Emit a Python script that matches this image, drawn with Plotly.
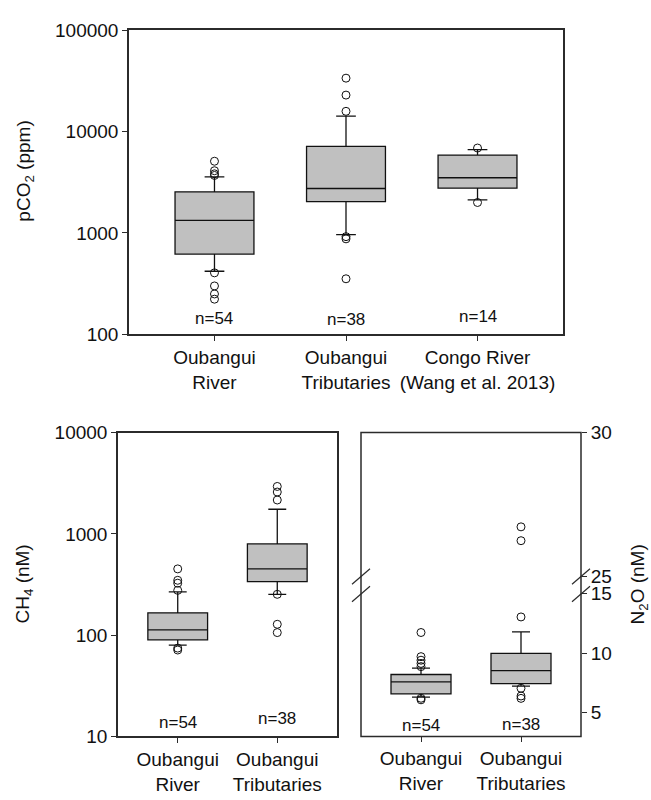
import plotly.graph_objects as go

# ---------------- data ----------------
top_labels = ["Oubangui<br>River", "Oubangui<br>Tributaries", "Congo River<br>(Wang et al. 2013)"]
top_n = ["n=54", "n=38", "n=14"]
pco2_q1 = [619, 2045, 2770]
pco2_median = [1334, 2750, 3510]
pco2_q3 = [2550, 7170, 5880]
pco2_lower = [419, 963, 2120]
pco2_upper = [3590, 14250, 6670]
pco2_outliers = [
    [5110, 4120, 3840, 3700, 404, 300, 250, 222],
    [33800, 23000, 15900, 920, 875, 353],
    [6900, 2000],
]

bottom_labels = ["Oubangui<br>River", "Oubangui<br>Tributaries"]
bottom_n = ["n=54", "n=38"]
ch4_q1 = [90, 338]
ch4_median = [112.5, 451]
ch4_q3 = [166, 796]
ch4_lower = [79.6, 253]
ch4_upper = [267, 1750]
ch4_outliers = [
    [451, 348, 326, 277, 74.5, 71.3],
    [2940, 2590, 2160, 253, 128, 106],
]

n2o_q1 = [6.57, 7.44]
n2o_median = [7.58, 8.54]
n2o_q3 = [8.21, 9.98]
n2o_lower = [6.30, 7.23]
n2o_upper = [8.75, 11.79]
n2o_outliers = [
    [11.74, 9.71, 9.41, 9.14, 8.87, 6.21, 6.08],
    [26.73, 26.25, 13.05, 7.05, 6.4, 6.2],
]
n2o_break = 20  # values above are drawn on the upper (broken) segment

# ---------------- style ----------------
W, H = 651, 800
FONT = "Liberation Sans, Arial, Helvetica, sans-serif"
AX = "#2b2b2b"
BOXFILL = "#c0c0c0"
FS = 19
TICKFONT = dict(family=FONT, size=FS, color="#111")


def px_x(v):
    return v / W


def px_y(v):
    return 1 - v / H


# domains (pixel measured)
top_x = [px_x(129), px_x(563)]
top_y = [px_y(333), px_y(21)]
ch4_x = [px_x(118), px_x(337)]
bot_y = [px_y(746), px_y(434)]
n2o_x = [px_x(361), px_x(581)]
n2o_low_y = [px_y(746), px_y(599.5)]
n2o_up_y = [px_y(582), px_y(434)]

fig = go.Figure()


def add_boxes(xa, ya, q1, med, q3, lo, hi, ww):
    for i in range(len(q1)):
        fig.add_trace(go.Box(
            x=[i], q1=[q1[i]], median=[med[i]], q3=[q3[i]],
            lowerfence=[lo[i]], upperfence=[hi[i]],
            width=0.6, whiskerwidth=ww, boxpoints=False,
            fillcolor=BOXFILL, line=dict(color="#111", width=1.3),
            xaxis=xa, yaxis=ya, showlegend=False, hoverinfo="skip"))


def add_outliers(xa, ya, xs, ys):
    fig.add_trace(go.Scatter(
        x=xs, y=ys, mode="markers", xaxis=xa, yaxis=ya, showlegend=False,
        marker=dict(symbol="circle-open", size=8, color="#111", line=dict(width=1)),
        hoverinfo="skip"))


# top panel
add_boxes("x", "y", pco2_q1, pco2_median, pco2_q3, pco2_lower, pco2_upper, 0.25)
xs, ys = [], []
for i, vals in enumerate(pco2_outliers):
    xs += [i] * len(vals)
    ys += vals
add_outliers("x", "y", xs, ys)

# CH4 panel
add_boxes("x2", "y2", ch4_q1, ch4_median, ch4_q3, ch4_lower, ch4_upper, 0.3)
xs, ys = [], []
for i, vals in enumerate(ch4_outliers):
    xs += [i] * len(vals)
    ys += vals
add_outliers("x2", "y2", xs, ys)

# N2O panel
add_boxes("x3", "y3", n2o_q1, n2o_median, n2o_q3, n2o_lower, n2o_upper, 0.3)
xl, yl, xu, yu = [], [], [], []
for i, vals in enumerate(n2o_outliers):
    for v in vals:
        if v > n2o_break:
            xu.append(i); yu.append(v)
        else:
            xl.append(i); yl.append(v)
add_outliers("x3", "y3", xl, yl)
add_outliers("x3", "y4", xu, yu)

axis_common = dict(showgrid=False, zeroline=False, linecolor=AX, linewidth=1.5,
                   ticks="outside", ticklen=5, tickwidth=1.2, tickcolor=AX,
                   tickfont=TICKFONT)

fig.update_layout(
    width=W, height=H, margin=dict(l=0, r=0, t=0, b=0),
    paper_bgcolor="white", plot_bgcolor="white",
    font=dict(family=FONT, color="#111"),
    xaxis=dict(domain=top_x, anchor="y", range=[-0.65, 2.65], tickvals=[0, 1, 2],
               ticktext=top_labels, showline=True, mirror=True, **axis_common),
    yaxis=dict(domain=top_y, anchor="x", type="log", range=[2, 5],
               tickvals=[100, 1000, 10000, 100000],
               ticktext=["100", "1000", "10000", "100000"],
               showline=True, mirror=True, **axis_common),
    xaxis2=dict(domain=ch4_x, anchor="y2", range=[-0.6, 1.6], tickvals=[0, 1],
                ticktext=bottom_labels, showline=True, mirror=True, **axis_common),
    yaxis2=dict(domain=bot_y, anchor="x2", type="log", range=[1, 4],
                tickvals=[10, 100, 1000, 10000],
                ticktext=["10", "100", "1000", "10000"],
                showline=True, mirror=True, **axis_common),
    xaxis3=dict(domain=n2o_x, anchor="y3", range=[-0.6, 1.6], tickvals=[0, 1],
                ticktext=bottom_labels, showline=False, **axis_common),
    yaxis3=dict(domain=n2o_low_y, anchor="x3", side="right", range=[3, 15],
                tickvals=[5, 10, 15], showline=False, **axis_common),
    yaxis4=dict(domain=n2o_up_y, anchor="x3", side="right", range=[25, 30],
                tickvals=[25, 30], showline=False, **axis_common),
)

# N2O frame
fig.add_shape(type="rect", xref="paper", yref="paper",
              x0=n2o_x[0], x1=n2o_x[1], y0=n2o_low_y[0], y1=n2o_up_y[1],
              line=dict(color=AX, width=1.5), fillcolor="rgba(0,0,0,0)", layer="above")

# break marks on both sides of the N2O axis
gap_mid = (n2o_low_y[1] + n2o_up_y[0]) / 2
dx = 9 / W
dy = 8 / H
sep = 18 / H
for xc in n2o_x:
    for off in (sep / 2, -sep / 2):
        fig.add_shape(type="line", xref="paper", yref="paper",
                      x0=xc - dx, y0=gap_mid + off - dy, x1=xc + dx, y1=gap_mid + off + dy,
                      line=dict(color=AX, width=1.2))

# axis titles
title_font = dict(family=FONT, size=FS, color="#111")
fig.add_annotation(text="pCO<sub>2</sub> (ppm)", xref="paper", yref="paper",
                   x=px_x(25), y=px_y(166), xanchor="center", yanchor="middle",
                   textangle=-90, showarrow=False, font=title_font)
fig.add_annotation(text="CH<sub>4</sub> (nM)", xref="paper", yref="paper",
                   x=px_x(24), y=px_y(590), xanchor="center", yanchor="middle",
                   textangle=-90, showarrow=False, font=title_font)
fig.add_annotation(text="N<sub>2</sub>O (nM)", xref="paper", yref="paper",
                   x=px_x(639), y=px_y(590), xanchor="center", yanchor="middle",
                   textangle=-90, showarrow=False, font=title_font)

# n labels
nfont = dict(family=FONT, size=17, color="#111")
top_n_pos = [2.154, 2.144, 2.173]
for i, t in enumerate(top_n):
    fig.add_annotation(text=t, x=i, y=top_n_pos[i], xref="x", yref="y",
                       showarrow=False, font=nfont)
ch4_n_pos = [1.137, 1.176]
for i, t in enumerate(bottom_n):
    fig.add_annotation(text=t, x=i, y=ch4_n_pos[i], xref="x2", yref="y2",
                       showarrow=False, font=nfont)
n2o_n_pos = [3.89, 4.03]
for i, t in enumerate(bottom_n):
    fig.add_annotation(text=t, x=i, y=n2o_n_pos[i], xref="x3", yref="y3",
                       showarrow=False, font=nfont)

fig.write_html("out.html")
